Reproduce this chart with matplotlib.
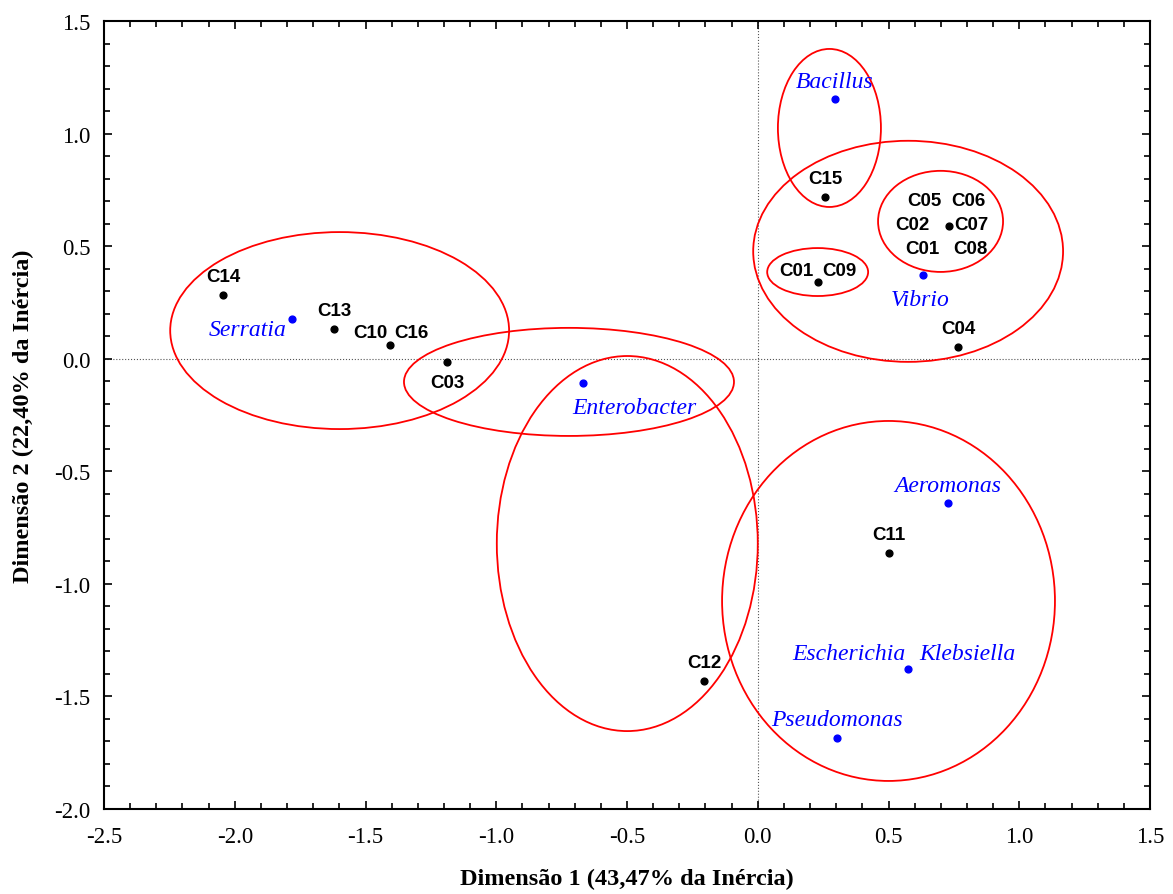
import matplotlib
matplotlib.use('Agg')
import matplotlib.pyplot as plt
from matplotlib.patches import Ellipse
from matplotlib.ticker import MultipleLocator

# coordenadas das amostras (pontos pretos)
amostras = ['C14', 'C13', 'C10 C16', 'C03', 'C15', 'C01 C09', 'C05 C06 C02 C07 C01 C08',
            'C04', 'C11', 'C12']
amostras_x = [-2.044, -1.620, -1.406, -1.188, 0.257, 0.230, 0.731, 0.766, 0.502, -0.205]
amostras_y = [0.283, 0.132, 0.061, -0.015, 0.718, 0.340, 0.589, 0.052, -0.863, -1.431]

# generos bacterianos (pontos azuis)
generos = ['Serratia', 'Enterobacter', 'Bacillus', 'Vibrio', 'Aeromonas',
           'Escherichia Klebsiella', 'Pseudomonas']
generos_x = [-1.781, -0.668, 0.295, 0.632, 0.727, 0.574, 0.303]
generos_y = [0.176, -0.108, 1.154, 0.372, -0.641, -1.379, -1.685]

# agrupamentos: centro x, centro y, largura, altura
grupos_cx = [0.274, 0.575, 0.699, 0.229, -1.599, -0.722, -0.499, 0.500]
grupos_cy = [1.025, 0.477, 0.610, 0.385, 0.125, -0.103, -0.821, -1.076]
grupos_w = [0.394, 1.185, 0.478, 0.386, 1.296, 1.262, 0.998, 1.273]
grupos_h = [0.702, 0.982, 0.449, 0.213, 0.875, 0.480, 1.666, 1.599]

fig = plt.figure(figsize=(11.73, 8.95), dpi=100)
ax = fig.add_axes([0.0887, 0.0950, 0.8917, 0.8804])

ax.axhline(0, color='#555555', lw=0.8, ls=':', zorder=1)
ax.axvline(0, color='#555555', lw=0.8, ls=':', zorder=1)

for cx, cy, w, h in zip(grupos_cx, grupos_cy, grupos_w, grupos_h):
    ax.add_patch(Ellipse((cx, cy), w, h, fill=False, ec='red', lw=1.3, zorder=2))

ax.scatter(amostras_x, amostras_y, s=24, color='black', zorder=3)
ax.scatter(generos_x, generos_y, s=24, color='blue', zorder=3)

# rotulos das amostras: (texto, dx, dy, ha) em pontos relativos ao ponto
rot_amostras = {
    'C14': [('C14', 0, 7, 'center')],
    'C13': [('C13', 0, 7, 'center')],
    'C10 C16': [('C10', -2, 3, 'right'), ('C16', 3, 3, 'left')],
    'C03': [('C03', 0, -21, 'center')],
    'C15': [('C15', 0, 7, 'center')],
    'C01 C09': [('C01', -3, 2, 'right'), ('C09', 3, 2, 'left')],
    'C05 C06 C02 C07 C01 C08': [('C05', -5, 12, 'right'), ('C06', 2, 12, 'left'),
                                ('C02', -14, -5, 'right'), ('C07', 4, -5, 'left'),
                                ('C01', -7, -22, 'right'), ('C08', 3, -22, 'left')],
    'C04': [('C04', 0, 7, 'center')],
    'C11': [('C11', 0, 7, 'center')],
    'C12': [('C12', 0, 7, 'center')],
}
for nome, x, y in zip(amostras, amostras_x, amostras_y):
    for txt, dx, dy, ha in rot_amostras[nome]:
        ax.annotate(txt, (x, y), xytext=(dx, dy), textcoords='offset points',
                    ha=ha, va='bottom', fontsize=13.5, fontweight='bold',
                    family='Liberation Sans', zorder=4)

rot_generos = {
    'Serratia': [('Serratia', -4, -15, 'right')],
    'Enterobacter': [('Enterobacter', -8, -25, 'left')],
    'Bacillus': [('Bacillus', 0, 5, 'center')],
    'Vibrio': [('Vibrio', -2, -25, 'center')],
    'Aeromonas': [('Aeromonas', 0, 5, 'center')],
    'Escherichia Klebsiella': [('Escherichia', -2, 4, 'right'), ('Klebsiella', 8, 4, 'left')],
    'Pseudomonas': [('Pseudomonas', 0, 6, 'center')],
}
for nome, x, y in zip(generos, generos_x, generos_y):
    for txt, dx, dy, ha in rot_generos[nome]:
        ax.annotate(txt, (x, y), xytext=(dx, dy), textcoords='offset points',
                    ha=ha, va='bottom', fontsize=17, style='italic', color='blue',
                    family='Liberation Serif', zorder=4)

ax.set_xlim(-2.5, 1.5)
ax.set_ylim(-2.0, 1.5)
ax.xaxis.set_major_locator(MultipleLocator(0.5))
ax.yaxis.set_major_locator(MultipleLocator(0.5))
ax.xaxis.set_minor_locator(MultipleLocator(0.1))
ax.yaxis.set_minor_locator(MultipleLocator(0.1))
ax.xaxis.set_major_formatter(lambda v, p: f'{v:.1f}')
ax.yaxis.set_major_formatter(lambda v, p: f'{v:.1f}')
ax.tick_params(which='both', direction='in', top=True, right=True, width=1.2)
ax.tick_params(which='major', length=6, labelsize=16.5)
ax.tick_params(axis='x', which='major', pad=12)
ax.tick_params(axis='y', which='major', pad=10)
ax.tick_params(which='minor', length=4)
for lbl in ax.get_xticklabels() + ax.get_yticklabels():
    lbl.set_family('Liberation Serif')
for s in ax.spines.values():
    s.set_linewidth(1.5)

ax.set_xlabel('Dimensão 1 (43,47% da Inércia)', fontsize=17.5, fontweight='bold',
              family='Liberation Serif', labelpad=15)
ax.set_ylabel('Dimensão 2 (22,40% da Inércia)', fontsize=17.5, fontweight='bold',
              family='Liberation Serif', labelpad=14)

fig.savefig('out.png', dpi=100)
